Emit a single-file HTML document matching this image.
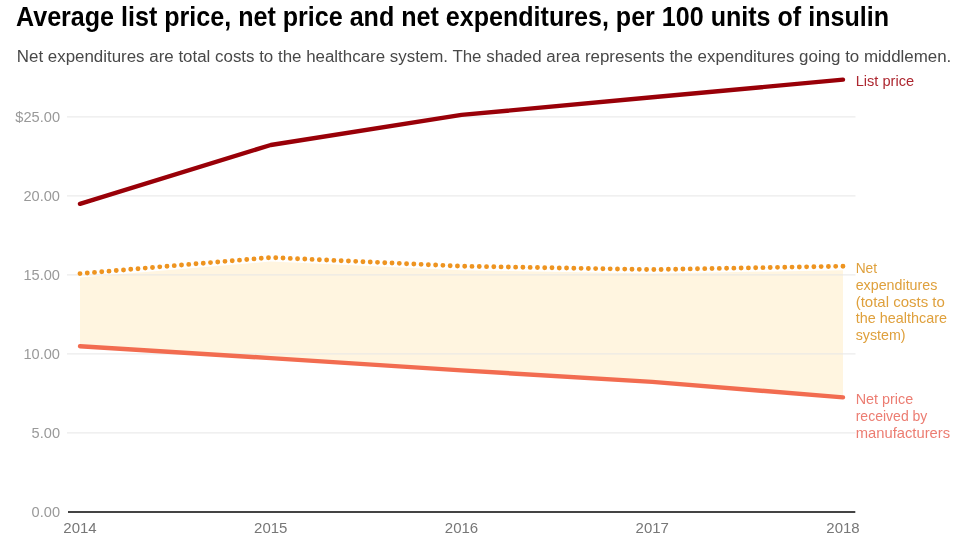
<!DOCTYPE html>
<html><head><meta charset="utf-8"><style>html,body{margin:0;padding:0;background:#fff;width:980px;height:555px;overflow:hidden}</style></head>
<body>
<svg width="980" height="555" viewBox="0 0 980 555" style="display:block;will-change:transform;font-family:'Liberation Sans', sans-serif">
<rect width="980" height="555" fill="#fff"/>
<text x="16" y="26.4" font-size="27.5" font-weight="bold" fill="#000" textLength="873" lengthAdjust="spacingAndGlyphs">Average list price, net price and net expenditures, per 100 units of insulin</text>
<text x="16.8" y="61.8" font-size="16" fill="#484848" textLength="934.5" lengthAdjust="spacingAndGlyphs">Net expenditures are total costs to the healthcare system. The shaded area represents the expenditures going to middlemen.</text>
<polygon points="80,277.6 270.75,261.5 461.5,270.2 652.25,273.6 843,270.2 843,397.4 652.25,381.85 461.5,370.4 270.75,358.1 80,346.2" fill="#fff5e0"/>
<line x1="67" x2="855.5" y1="116.9" y2="116.9" stroke="#e6e6e6" stroke-width="1"/>
<text x="60" y="122.0" font-size="14.6" fill="#999" text-anchor="end">$25.00</text>
<line x1="67" x2="855.5" y1="195.9" y2="195.9" stroke="#e6e6e6" stroke-width="1"/>
<text x="60" y="201.0" font-size="14.6" fill="#999" text-anchor="end">20.00</text>
<line x1="67" x2="855.5" y1="274.9" y2="274.9" stroke="#e6e6e6" stroke-width="1"/>
<text x="60" y="280.0" font-size="14.6" fill="#999" text-anchor="end">15.00</text>
<line x1="67" x2="855.5" y1="353.9" y2="353.9" stroke="#e6e6e6" stroke-width="1"/>
<text x="60" y="359.0" font-size="14.6" fill="#999" text-anchor="end">10.00</text>
<line x1="67" x2="855.5" y1="432.9" y2="432.9" stroke="#e6e6e6" stroke-width="1"/>
<text x="60" y="438.0" font-size="14.6" fill="#999" text-anchor="end">5.00</text>
<line x1="68" x2="855.3" y1="511.9" y2="511.9" stroke="#444" stroke-width="2"/>
<text x="60" y="517.0" font-size="14.6" fill="#999" text-anchor="end">0.00</text>
<text x="80" y="532.9" font-size="15" fill="#777" text-anchor="middle">2014</text>
<text x="270.75" y="532.9" font-size="15" fill="#777" text-anchor="middle">2015</text>
<text x="461.5" y="532.9" font-size="15" fill="#777" text-anchor="middle">2016</text>
<text x="652.25" y="532.9" font-size="15" fill="#777" text-anchor="middle">2017</text>
<text x="843" y="532.9" font-size="15" fill="#777" text-anchor="middle">2018</text>
<polyline points="80,346.2 270.75,358.1 461.5,370.4 652.25,381.85 843,397.4" fill="none" stroke="#f26c50" stroke-width="4.4" stroke-linecap="round" stroke-linejoin="round"/>
<polyline points="80,273.6 270.75,257.5 461.5,266.2 652.25,269.6 843,266.2" fill="none" stroke="#ee9420" stroke-width="4.9" stroke-linecap="round" stroke-linejoin="round" stroke-dasharray="0 7.2752"/>
<polyline points="80,203.8 270.75,145.0 461.5,114.9 652.25,97.3 843,79.6" fill="none" stroke="#990008" stroke-width="4.4" stroke-linecap="round" stroke-linejoin="round"/>
<text x="855.7" y="85.9" font-size="15" fill="#ad2730" textLength="58.4" lengthAdjust="spacingAndGlyphs">List price</text>
<text x="855.7" y="272.80" font-size="15" fill="#dfa03c" textLength="21.4" lengthAdjust="spacingAndGlyphs">Net</text>
<text x="855.7" y="289.65" font-size="15" fill="#dfa03c" textLength="81.7" lengthAdjust="spacingAndGlyphs">expenditures</text>
<text x="855.7" y="306.50" font-size="15" fill="#dfa03c" textLength="89.1" lengthAdjust="spacingAndGlyphs">(total costs to</text>
<text x="855.7" y="323.35" font-size="15" fill="#dfa03c" textLength="91.3" lengthAdjust="spacingAndGlyphs">the healthcare</text>
<text x="855.7" y="340.20" font-size="15" fill="#dfa03c" textLength="49.9" lengthAdjust="spacingAndGlyphs">system)</text>
<text x="855.7" y="403.60" font-size="15" fill="#ec7d72" textLength="57.5" lengthAdjust="spacingAndGlyphs">Net price</text>
<text x="855.7" y="420.60" font-size="15" fill="#ec7d72" textLength="71.7" lengthAdjust="spacingAndGlyphs">received by</text>
<text x="855.7" y="437.60" font-size="15" fill="#ec7d72" textLength="94.4" lengthAdjust="spacingAndGlyphs">manufacturers</text>
</svg>
</body></html>
